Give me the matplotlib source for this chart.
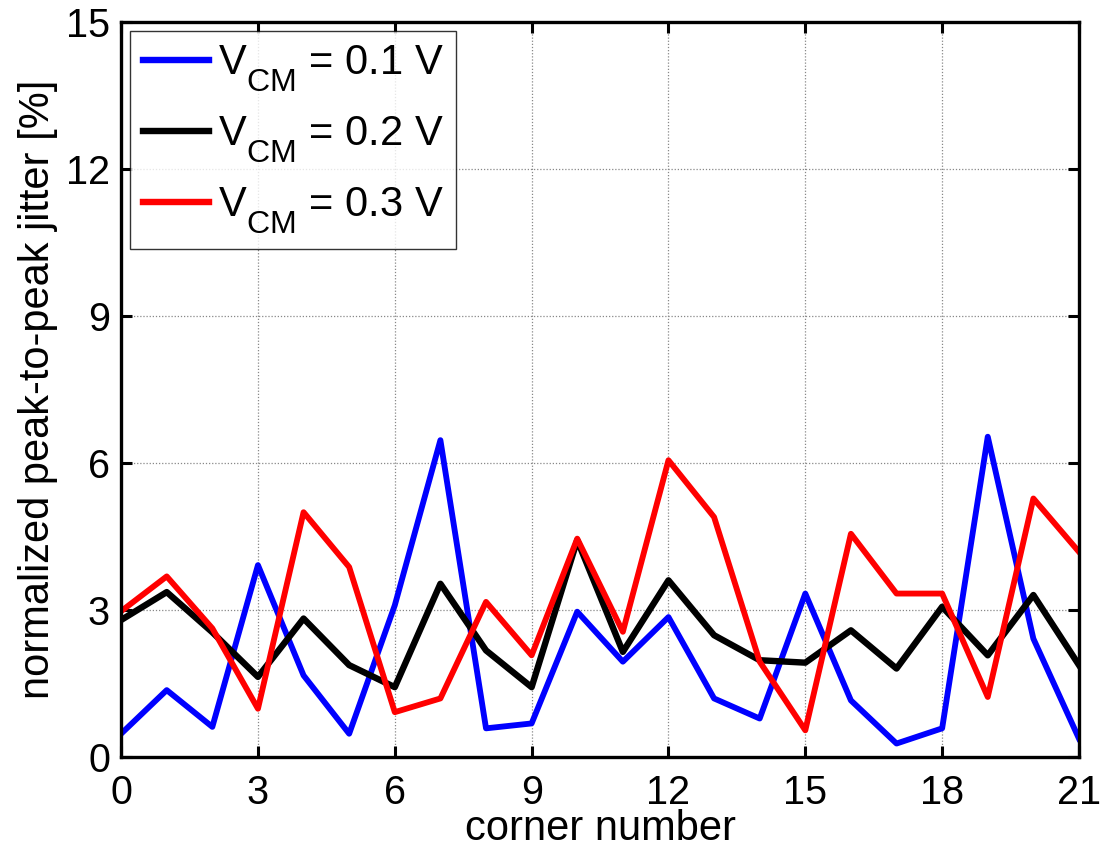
import matplotlib
matplotlib.use("Agg")
import matplotlib.pyplot as plt
import numpy as np
try:
    import matplotlib._mathtext as _mt
    _mt.FontConstantsBase.sub1 = 0.75
    _mt.FontConstantsBase.sub2 = 0.75
    _mt.SHRINK_FACTOR = 0.77
except Exception:
    pass

plt.rcParams['font.family'] = ['Liberation Sans', 'DejaVu Sans']
plt.rcParams['mathtext.fontset'] = 'custom'
plt.rcParams['mathtext.rm'] = 'Liberation Sans'
plt.rcParams['mathtext.it'] = 'Liberation Sans'

corner = list(range(22))
v01 = [0.48, 1.37, 0.62, 3.92, 1.67, 0.48, 3.1, 6.47, 0.59, 0.69, 2.97,
       1.95, 2.86, 1.2, 0.79, 3.34, 1.16, 0.28, 0.59, 6.54, 2.42, 0.38]
v02 = [2.8, 3.37, 2.55, 1.64, 2.83, 1.88, 1.43, 3.54, 2.18, 1.43, 4.43,
       2.15, 3.61, 2.49, 1.98, 1.93, 2.59, 1.81, 3.07, 2.08, 3.31, 1.88]
v03 = [2.98, 3.69, 2.63, 0.99, 5.0, 3.88, 0.92, 1.2, 3.17, 2.08, 4.46,
       2.56, 6.06, 4.9, 1.95, 0.55, 4.56, 3.34, 3.34, 1.23, 5.28, 4.19]
labels = [r'$\mathregular{V_{CM}}$ = 0.1 V',
          r'$\mathregular{V_{CM}}$ = 0.2 V',
          r'$\mathregular{V_{CM}}$ = 0.3 V']
xticks = list(range(0, 22, 3))
yticks = list(range(0, 16, 3))

fig = plt.figure(figsize=(11.01, 8.48), dpi=100)
ax = fig.add_axes([0.11, 0.107, 0.87, 0.867])

ax.plot(corner, v01, color='#0000ff', lw=4.2, label=labels[0])
ax.plot(corner, v02, color='black', lw=4.6, label=labels[1])
ax.plot(corner, v03, color='#ff0000', lw=4.2, label=labels[2])

ax.set_xlim(0, 21)
ax.set_ylim(0, 15)
ax.set_xticks(xticks)
ax.set_yticks(yticks)
ax.tick_params(direction='in', length=8, width=2.2, labelsize=28.5,
               top=True, right=True, pad=8)
ax.tick_params(axis='x', pad=12)
for s in ax.spines.values():
    s.set_linewidth(2.4)
ax.grid(True, color='#888888', linestyle=(0, (1, 1.5)), linewidth=0.9)
ax.set_axisbelow(True)

ax.set_xlabel('corner number', fontsize=30, labelpad=-2)
ax.set_ylabel('normalized peak-to-peak jitter [%]', fontsize=30, labelpad=6)

leg = ax.legend(loc='upper left', fontsize=30, frameon=True, fancybox=False,
                edgecolor='black', handlelength=1.6, handletextpad=0.2,
                borderpad=0.3, labelspacing=0.5, borderaxespad=0.22)
leg.get_frame().set_linewidth(1.0)
for h in leg.get_lines():
    h.set_linewidth(4.6)

fig.savefig('out.png', dpi=100)
